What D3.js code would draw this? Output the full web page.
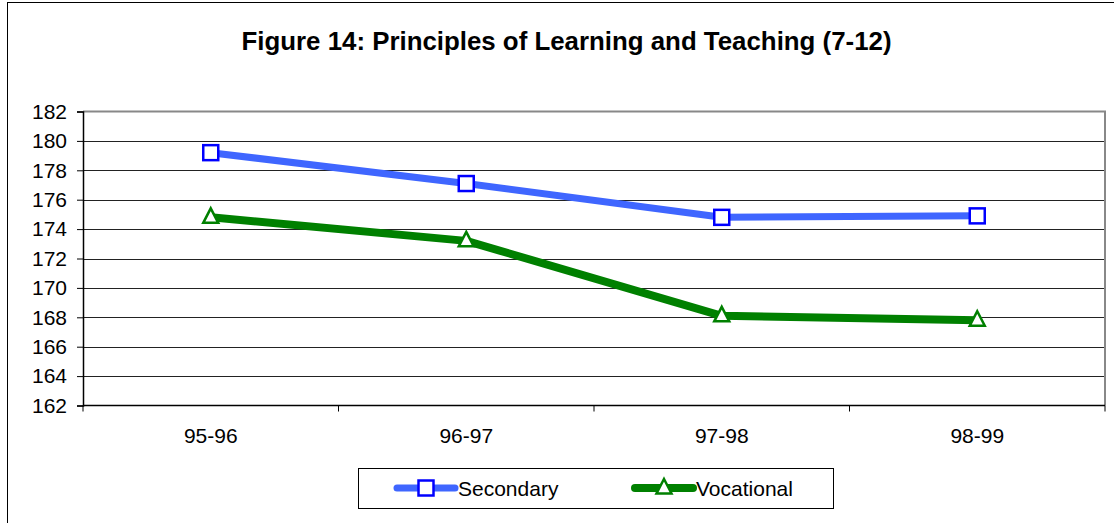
<!DOCTYPE html>
<html>
<head>
<meta charset="utf-8">
<script src="https://cdn.jsdelivr.net/npm/d3@7"></script>
<style>
  body { margin: 0; background: #fff; }
  svg { font-family: Arial, "Liberation Sans", sans-serif; }
</style>
</head>
<body>
<svg id="chart" width="1114" height="523"></svg>
<script>
const categories = ["95-96", "96-97", "97-98", "98-99"];
const secondary = [179.2, 177.1, 174.8, 174.9];
const vocational = [174.8, 173.2, 168.1, 167.8];
const yTicks = [162, 164, 166, 168, 170, 172, 174, 176, 178, 180, 182];

const svg = d3.select("#chart");
const plot = { left: 83, top: 111.5, right: 1105, bottom: 405.5 };

// outer frame (right/bottom edges fall outside the picture)
svg.append("rect")
  .attr("x", 7.5).attr("y", 2.5)
  .attr("width", 1200).attr("height", 600)
  .attr("fill", "#fff").attr("stroke", "#000").attr("stroke-width", 1);

svg.append("text")
  .attr("x", 566.5).attr("y", 50)
  .attr("text-anchor", "middle")
  .attr("font-weight", "bold")
  .attr("font-size", 25)
  .attr("textLength", 650)
  .attr("lengthAdjust", "spacingAndGlyphs")
  .text("Figure 14: Principles of Learning and Teaching (7-12)");

const x = d3.scaleBand().domain(categories).range([plot.left, plot.right]);
const y = d3.scaleLinear().domain([162, 182]).range([plot.bottom, plot.top]);

// gridlines
svg.append("g")
  .selectAll("line")
  .data(yTicks.slice(1, -1))
  .join("line")
  .attr("x1", plot.left).attr("x2", plot.right)
  .attr("y1", d => Math.round(y(d)) + 0.5).attr("y2", d => Math.round(y(d)) + 0.5)
  .attr("stroke", "#222").attr("stroke-width", 1);

// plot border top/right (grey)
svg.append("path")
  .attr("d", `M${plot.left},${plot.top}H${plot.right}V${plot.bottom}`)
  .attr("fill", "none").attr("stroke", "#888").attr("stroke-width", 2);

// y axis
const yAxis = svg.append("g")
  .attr("transform", `translate(${plot.left},0)`)
  .call(d3.axisLeft(y).tickValues(yTicks).tickSize(6).tickPadding(10).tickFormat(d3.format("d")));
yAxis.select(".domain").attr("stroke", "#000").attr("stroke-width", 1.5);
yAxis.selectAll("text").attr("font-size", 21).attr("font-family", "Arial, 'Liberation Sans', sans-serif").attr("fill", "#000");

// x axis with ticks between categories
const xAxis = svg.append("g").attr("transform", `translate(0,${plot.bottom})`);
xAxis.append("line")
  .attr("x1", plot.left).attr("x2", plot.right)
  .attr("stroke", "#000").attr("stroke-width", 1.5);
xAxis.selectAll("line.tick")
  .data(categories.map((c, i) => i).concat([categories.length]))
  .join("line")
  .attr("class", "tick")
  .attr("x1", i => plot.left + i * x.bandwidth()).attr("x2", i => plot.left + i * x.bandwidth())
  .attr("y1", 0).attr("y2", 6)
  .attr("stroke", "#000");
xAxis.selectAll("text")
  .data(categories)
  .join("text")
  .attr("x", d => x(d) + x.bandwidth() / 2)
  .attr("y", 37)
  .attr("text-anchor", "middle")
  .attr("font-size", 21)
  .text(d => d);

const line = d3.line()
  .x((d, i) => x(categories[i]) + x.bandwidth() / 2)
  .y(d => y(d));

const series = [
  { name: "Secondary", values: secondary, lineColor: "#3f66ff", markColor: "#0000ff", shape: "square", width: 7 },
  { name: "Vocational", values: vocational, lineColor: "#008000", markColor: "#008000", shape: "triangle", width: 8 }
];

function marker(g, s, cx, cy) {
  if (s.shape === "square") {
    g.append("rect")
      .attr("x", cx - 7.5).attr("y", cy - 7.5)
      .attr("width", 15).attr("height", 15)
      .attr("fill", "#fff").attr("stroke", s.markColor).attr("stroke-width", 2.5);
  } else {
    g.append("path")
      .attr("d", `M${cx},${cy - 9}L${cx + 7.5},${cy + 5.5}L${cx - 7.5},${cy + 5.5}Z`)
      .attr("fill", "#fff").attr("stroke", s.markColor).attr("stroke-width", 2.5)
      .attr("stroke-linejoin", "miter");
  }
}

series.forEach(s => {
  svg.append("path")
    .datum(s.values)
    .attr("d", line)
    .attr("fill", "none")
    .attr("stroke", s.lineColor)
    .attr("stroke-width", s.width)
    .attr("stroke-linejoin", "round");
  const g = svg.append("g");
  s.values.forEach((v, i) => marker(g, s, x(categories[i]) + x.bandwidth() / 2, y(v)));
});

// legend
const legend = svg.append("g");
legend.append("rect")
  .attr("x", 358.5).attr("y", 468.5)
  .attr("width", 475).attr("height", 40)
  .attr("fill", "#fff").attr("stroke", "#000").attr("stroke-width", 1);
const legendPos = [397, 635];
series.forEach((s, i) => {
  const lx = legendPos[i];
  legend.append("line")
    .attr("x1", lx).attr("x2", lx + 58)
    .attr("y1", 488).attr("y2", 488)
    .attr("stroke", s.lineColor).attr("stroke-width", s.width)
    .attr("stroke-linecap", "round");
  marker(legend, s, lx + 29, 488);
  legend.append("text")
    .attr("x", lx + 61).attr("y", 496)
    .attr("font-size", 21)
    .text(s.name);
});
</script>
</body>
</html>
